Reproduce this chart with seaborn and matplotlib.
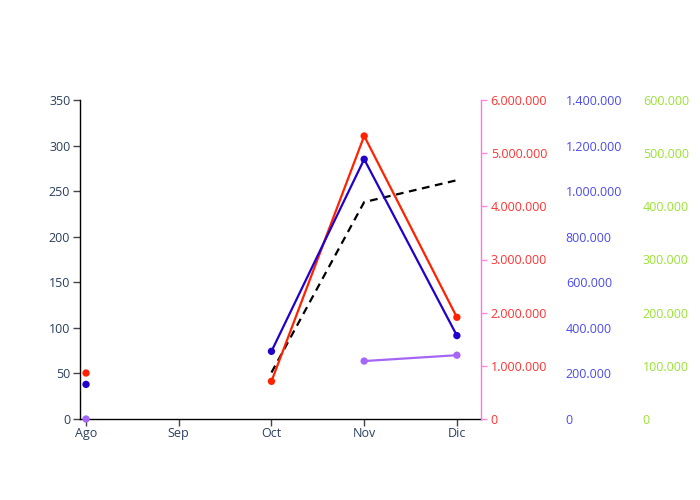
import numpy as np
import pandas as pd
import matplotlib
matplotlib.use('Agg')
import matplotlib.pyplot as plt
import seaborn as sns
from matplotlib.ticker import FuncFormatter

months = ['Ago', 'Sep', 'Oct', 'Nov', 'Dic']
red_vals = [865000, np.nan, 709000, 5323000, 1913000]
blue_vals = [152000, np.nan, 297000, 1140000, 366000]
purple_vals = [0, np.nan, np.nan, 109000, 120000]
black_vals = [np.nan, np.nan, 51, 238, 262]

df = pd.DataFrame({'pos': range(len(months)), 'month': months,
                   'red': red_vals, 'blue': blue_vals,
                   'purple': purple_vals, 'black': black_vals})

sns.set_style('white')
plt.rcParams['font.family'] = ['Open Sans', 'DejaVu Sans']

fig = plt.figure(figsize=(7, 5), dpi=100)
ax = fig.add_axes([80/700, 1-419/500, 401/700, 319/500])
ax2 = ax.twinx()
ax3 = ax.twinx()
ax4 = ax.twinx()

label_col = '#2a3f5f'
dot = lambda v, pos: f'{v:,.0f}'.replace(',', '.')


def draw(axis, col, color, marker=True, dashed=False):
    # split into runs so gaps stay gaps
    d = df[['pos', col]].copy()
    d['run'] = d[col].isna().cumsum()
    d = d.dropna()
    for _, g in d.groupby('run'):
        if len(g) > 1:
            sns.lineplot(data=g, x='pos', y=col, ax=axis, color=color, lw=1.6,
                         linestyle=(0, (3.5, 2.5)) if dashed else '-',
                         estimator=None, sort=False, legend=False, clip_on=False)
    if marker:
        sns.scatterplot(data=d, x='pos', y=col, ax=axis, color=color, s=28,
                        edgecolor='none', legend=False, clip_on=False, zorder=5)


draw(ax, 'black', 'black', marker=False, dashed=True)
draw(ax2, 'red', '#ff2200')
draw(ax3, 'blue', '#2200cc')
draw(ax4, 'purple', '#a566f5')

ax.set_xlim(-0.065, 4.26)
ax.set_ylim(0, 350)
ax.set_yticks(range(0, 351, 50))
ax.set_xticks(range(len(months)))
ax.set_xticklabels(months)
ax.set_xlabel('')
ax.set_ylabel('')
ax.tick_params(axis='both', colors='#444444', labelcolor=label_col,
               labelsize=9, length=5, width=1, direction='out', pad=2)
ax.tick_params(axis='x', pad=0.5)
ax.tick_params(left=True, bottom=True)
for s in ['top', 'right']:
    ax.spines[s].set_visible(False)
for s in ['left', 'bottom']:
    ax.spines[s].set_color('black')
    ax.spines[s].set_linewidth(1)

ax2.set_ylim(0, 6000000)
ax2.set_yticks(range(0, 6000001, 1000000))
ax2.yaxis.set_major_formatter(FuncFormatter(dot))
ax2.tick_params(axis='y', colors='#ff88dd', labelcolor='#ff3333',
                labelsize=9, length=4, width=1, pad=3, right=True)
ax2.spines['right'].set_color('#ff77dd')
ax2.spines['right'].set_linewidth(1)

ax3.set_ylim(0, 1400000)
ax3.set_yticks(range(0, 1400001, 200000))
ax3.yaxis.set_major_formatter(FuncFormatter(dot))
ax3.spines['right'].set_position(('axes', (563 - 80) / 401))
ax3.spines['right'].set_visible(False)
ax3.tick_params(axis='y', labelcolor='#4a4aee', labelsize=9, length=0, pad=2, right=True)

ax4.set_ylim(0, 600000)
ax4.set_yticks(range(0, 600001, 100000))
ax4.yaxis.set_major_formatter(FuncFormatter(dot))
ax4.spines['right'].set_position(('axes', (640 - 80) / 401))
ax4.spines['right'].set_visible(False)
ax4.tick_params(axis='y', labelcolor='#99e233', labelsize=9, length=0, pad=2, right=True)

for a in [ax2, ax3, ax4]:
    a.set_ylabel('')
    for s in ['top', 'left', 'bottom']:
        a.spines[s].set_visible(False)
    a.patch.set_visible(False)

fig.savefig('out.png', dpi=100)
